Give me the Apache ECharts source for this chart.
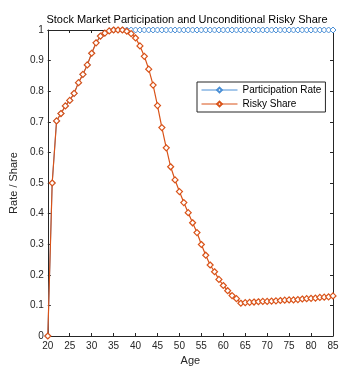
<!DOCTYPE html>
<html>
<head>
<meta charset="utf-8">
<script src="https://cdn.jsdelivr.net/npm/echarts@6/dist/echarts.min.js"></script>
<style>
  html, body { margin: 0; padding: 0; background: #fff; }
  #chart { width: 353px; height: 374px; }
</style>
</head>
<body>
<div id="chart"></div>
<script>
// ages 20..85, one point per year
const ages = [20, 21, 22, 23, 24, 25, 26, 27, 28, 29, 30, 31, 32, 33, 34, 35, 36, 37, 38, 39,
  40, 41, 42, 43, 44, 45, 46, 47, 48, 49, 50, 51, 52, 53, 54, 55, 56, 57, 58, 59,
  60, 61, 62, 63, 64, 65, 66, 67, 68, 69, 70, 71, 72, 73, 74, 75, 76, 77, 78, 79,
  80, 81, 82, 83, 84, 85]

// young ages: the blue line sits under the orange one (not visible in the picture)
const participationRate = [0, 0.50, 0.703, 0.727, 0.752, 0.770, 0.793, 0.828, 0.855, 0.886,
  0.924, 0.958, 0.980, 0.990, 0.997, 1, 1, 1, 1, 1,
  1, 1, 1, 1, 1, 1, 1, 1, 1, 1, 1, 1, 1, 1, 1, 1, 1, 1, 1, 1,
  1, 1, 1, 1, 1, 1, 1, 1, 1, 1, 1, 1, 1, 1, 1, 1, 1, 1, 1, 1,
  1, 1, 1, 1, 1, 1]

const riskyShare = [0, 0.50, 0.703, 0.727, 0.752, 0.770, 0.793, 0.828, 0.855, 0.886,
  0.924, 0.958, 0.980, 0.990, 0.997, 1.0, 1.0, 1.0, 0.996, 0.988,
  0.974, 0.948, 0.914, 0.872, 0.820, 0.753, 0.681, 0.615, 0.553, 0.510,
  0.472, 0.436, 0.403, 0.370, 0.338, 0.299, 0.264, 0.232, 0.210, 0.185,
  0.165, 0.148, 0.132, 0.122, 0.107, 0.109, 0.110, 0.111, 0.112, 0.113,
  0.113, 0.114, 0.115, 0.116, 0.117, 0.118, 0.118, 0.119, 0.121, 0.122,
  0.123, 0.124, 0.126, 0.127, 0.128, 0.131]

const xTicks = { min: 20, max: 85, interval: 5 }
const yTicks = { min: 0, max: 1, interval: 0.1 }

const axisColor = '#262626'
const font = 'Liberation Sans, Arial, sans-serif'

const pairs = (ys) => ages.map((a, i) => [a, ys[i]])

const chart = echarts.init(document.getElementById('chart'), null, { renderer: 'canvas' })

const frameAxis = {
  axisLine: { show: true, onZero: false, lineStyle: { color: axisColor, width: 1 } },
  axisTick: { show: true, inside: true, length: 3, lineStyle: { color: axisColor } },
  splitLine: { show: false },
}

chart.setOption({
  animation: false,
  backgroundColor: '#fff',
  title: {
    text: 'Stock Market Participation and Unconditional Risky Share',
    left: 187,
    top: 14,
    padding: 0,
    textAlign: 'center',
    textStyle: { fontFamily: font, fontSize: 11, fontWeight: 'normal', color: '#000' },
  },
  legend: {
    orient: 'vertical',
    left: 197,
    top: 82,
    itemWidth: 36,
    itemHeight: 6,
    itemGap: 4,
    padding: [3, 4, 3, 4],
    borderColor: axisColor,
    borderWidth: 1,
    backgroundColor: '#fff',
    lineStyle: { width: 1 },
    textStyle: { fontFamily: font, fontSize: 10, color: '#000' },
    data: ['Participation Rate', 'Risky Share'],
  },
  grid: { left: 41, right: 20, top: 30, bottom: 38 },
  xAxis: [
    {
      type: 'value',
      ...xTicks,
      ...frameAxis,
      name: 'Age',
      nameLocation: 'middle',
      nameGap: 19,
      nameTextStyle: { fontFamily: font, fontSize: 11, color: axisColor },
      axisLabel: { fontFamily: font, fontSize: 10, color: axisColor, margin: 5 },
    },
    {
      type: 'value',
      position: 'top',
      ...xTicks,
      ...frameAxis,
      axisLabel: { show: false },
    },
  ],
  yAxis: [
    {
      type: 'value',
      ...yTicks,
      ...frameAxis,
      name: 'Rate / Share',
      nameLocation: 'middle',
      nameGap: 24,
      nameTextStyle: { fontFamily: font, fontSize: 11, color: axisColor },
      axisLabel: { fontFamily: font, fontSize: 10, color: axisColor, margin: 4 },
    },
    {
      type: 'value',
      position: 'right',
      ...yTicks,
      ...frameAxis,
      axisLabel: { show: false },
    },
  ],
  series: [
    {
      name: 'Participation Rate',
      type: 'line',
      data: pairs(participationRate),
      symbol: 'diamond',
      symbolSize: 6,
      showAllSymbol: true,
      color: '#4A8FD6',
      lineStyle: { color: '#4A8FD6', width: 1 },
      itemStyle: { color: '#fff', borderColor: '#4A8FD6', borderWidth: 1 },
    },
    {
      name: 'Risky Share',
      type: 'line',
      data: pairs(riskyShare),
      symbol: 'diamond',
      symbolSize: 6,
      showAllSymbol: true,
      color: '#D95319',
      lineStyle: { color: '#D95319', width: 1.2 },
      itemStyle: { color: '#fff', borderColor: '#D95319', borderWidth: 1.2 },
    },
  ],
})
</script>
</body>
</html>
